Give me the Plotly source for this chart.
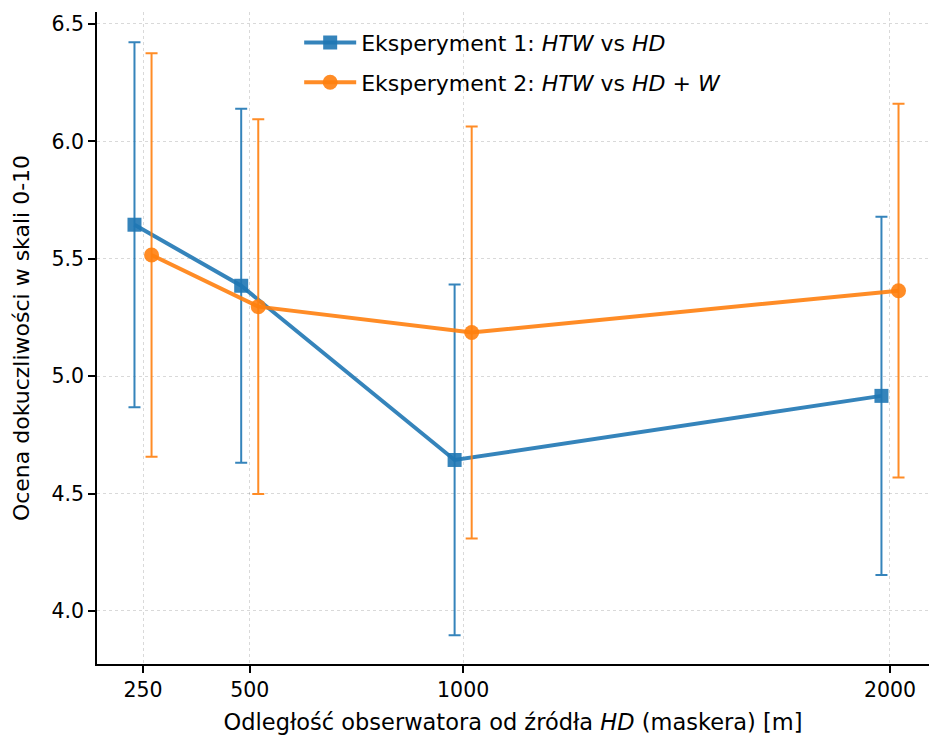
import plotly.graph_objects as go

# Distance of the observer from the HD source (masker), metres
distances = [250, 500, 1000, 2000]
tick_labels = ["250", "500", "1000", "2000"]

# Experiment 1: HTW vs HD  (mean rating and error)
exp1_mean = [5.645, 5.385, 4.643, 4.916]
exp1_err = [0.777, 0.754, 0.747, 0.763]

# Experiment 2: HTW vs HD + W
exp2_mean = [5.516, 5.296, 5.186, 5.364]
exp2_err = [0.859, 0.798, 0.877, 0.796]

series_names = [
    "Eksperyment 1: <i>HTW</i> vs <i>HD</i>",
    "Eksperyment 2: <i>HTW</i> vs <i>HD</i> + <i>W</i>",
]

BLUE = "rgba(31,119,180,0.9)"
ORANGE = "rgba(255,127,14,0.9)"
SHIFT = 20  # horizontal dodge so the error bars do not overlap

FONT = "DejaVu Sans"

fig = go.Figure()

fig.add_trace(go.Scatter(
    x=[d - SHIFT for d in distances], y=exp1_mean,
    mode="lines+markers", name=series_names[0], legendgroup="e1",
    line=dict(color=BLUE, width=4),
    marker=dict(symbol="square", size=14, color=BLUE),
    error_y=dict(type="data", array=exp1_err, visible=True,
                 color=BLUE, thickness=2, width=6),
))
fig.add_trace(go.Scatter(
    x=[d + SHIFT for d in distances], y=exp2_mean,
    mode="lines+markers", name=series_names[1], legendgroup="e2",
    line=dict(color=ORANGE, width=4),
    marker=dict(symbol="circle", size=15, color=ORANGE),
    error_y=dict(type="data", array=exp2_err, visible=True,
                 color=ORANGE, thickness=2, width=6),
))

grid = dict(showgrid=True, gridcolor="rgba(0,0,0,0.15)", griddash="dot", gridwidth=1)

fig.update_layout(
    width=929, height=738,
    margin=dict(l=97, r=0, t=12, b=74),
    paper_bgcolor="white", plot_bgcolor="white",
    font=dict(family=FONT, size=20.5, color="black"),
    showlegend=True,
    legend=dict(x=0.243, y=0.985, xanchor="left", yanchor="top",
                bgcolor="rgba(0,0,0,0)", font=dict(size=22, family=FONT),
                itemwidth=52, traceorder="grouped", tracegroupgap=8),
    xaxis=dict(
        range=[142.2, 2091.4],
        tickmode="array", tickvals=distances, ticktext=tick_labels,
        ticks="outside", ticklen=7, tickwidth=1.5, tickcolor="black",
        showline=True, linecolor="black", linewidth=1.5,
        zeroline=False,
        title=dict(text="Odległość obserwatora od źródła <i>HD</i> (maskera) [m]",
                   font=dict(size=22.5), standoff=13),
        **grid,
    ),
    yaxis=dict(
        range=[3.774, 6.551],
        tickmode="array", tickvals=[4.0, 4.5, 5.0, 5.5, 6.0, 6.5],
        tickformat=".1f",
        ticks="outside", ticklen=7, tickwidth=1.5, tickcolor="black",
        showline=True, linecolor="black", linewidth=1.5,
        zeroline=False,
        title=dict(text="Ocena dokuczliwości w skali 0-10",
                   font=dict(size=22), standoff=16),
        **grid,
    ),
)

fig.write_html("out.html")
